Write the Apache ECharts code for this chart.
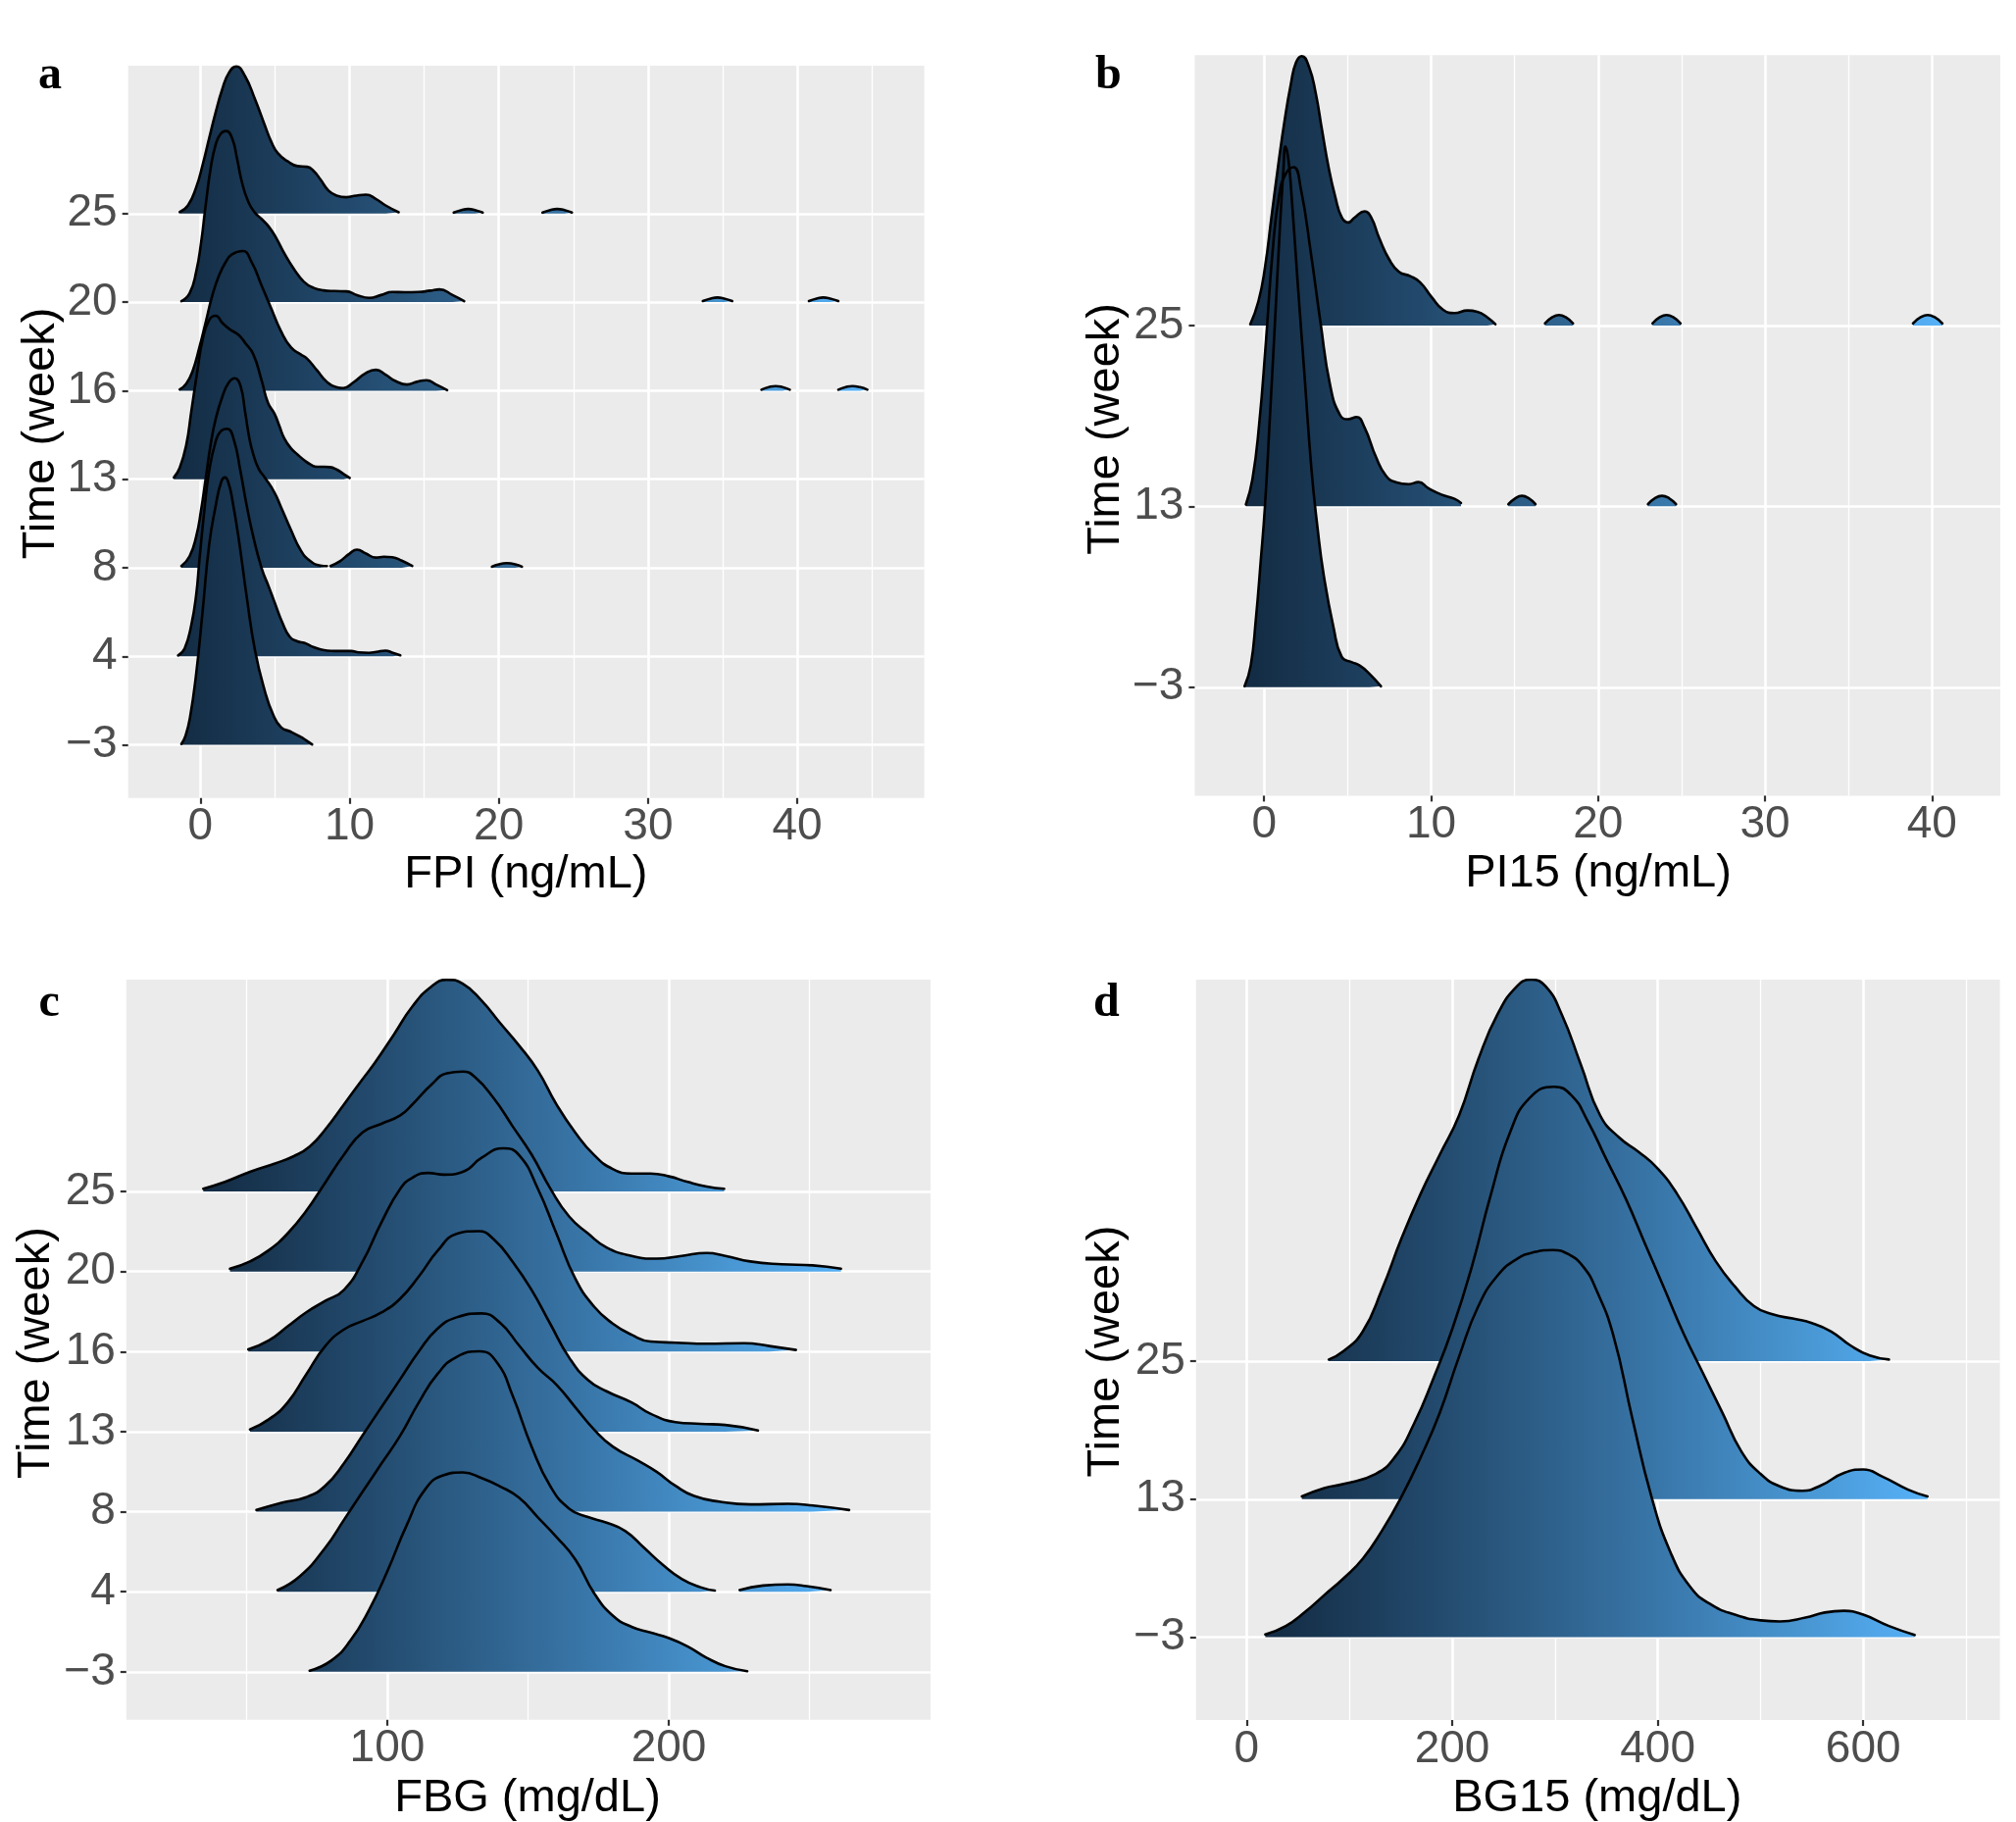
<!DOCTYPE html>
<html><head><meta charset="utf-8">
<script src="https://cdn.jsdelivr.net/npm/echarts@6.0.0/dist/echarts.min.js"></script>
<style>html,body{margin:0;padding:0;background:#fff}#c{width:2056px;height:1858px}</style>
</head><body><div id="c"></div>
<script>
// ---------------- DATA (x value, ridge height in units of row spacing) ----------------
// Panel a: FPI (ng/mL)
const weeksA = ['\u22123','4','8','13','16','20','25'];
const ticksA = [0,10,20,30,40];
const minorA = [5,15,25,35,45];
const fpi_wm3 = [[-1.27,0.01],[-1.0,0.1],[-0.7,0.3],[-0.28,0.8],[0.16,1.52],[0.59,2.26],[1.03,2.7],[1.4,2.97],[1.66,3.02],[1.9,2.95],[2.13,2.78],[2.57,2.33],[3.11,1.67],[3.66,1.07],[4.32,0.61],[4.86,0.35],[5.41,0.2],[6.07,0.148],[6.72,0.09],[7.1,0.05],[7.49,0.005]];
const fpi_w4 = [[-1.49,0.01],[-1.05,0.09],[-0.61,0.35],[-0.28,0.69],[-0.06,1.09],[0.27,1.65],[0.59,2.09],[1.03,2.43],[1.36,2.54],[1.8,2.57],[2.24,2.45],[2.68,2.1],[3.11,1.7],[3.55,1.35],[4.1,1.0],[4.6,0.78],[5.0,0.6],[5.5,0.38],[6.0,0.22],[6.5,0.17],[7.0,0.15],[7.5,0.11],[8.0,0.08],[8.5,0.065],[9.0,0.06],[9.6,0.06],[10.1,0.06],[10.6,0.045],[11.3,0.04],[11.8,0.05],[12.4,0.065],[12.9,0.04],[13.4,0.012]];
const fpi_w8 = [[-1.27,0.02],[-0.72,0.13],[-0.28,0.35],[0.05,0.65],[0.37,1.02],[0.70,1.4],[1.03,1.68],[1.47,1.93],[1.9,2.09],[2.31,2.14],[2.7,2.05],[3.0,1.76],[3.3,1.45],[3.55,1.28],[3.9,1.12],[4.32,1.02],[4.97,0.85],[5.41,0.685],[6.07,0.43],[6.72,0.2],[7.38,0.074],[8.04,0.026],[8.48,0.02],null,[8.72,0.02],[9.35,0.074],[10.0,0.16],[10.5,0.205],[11.1,0.16],[11.76,0.115],[12.3,0.125],[12.86,0.12],[13.5,0.08],[14.2,0.02],null,[19.54,0.012],[20.0,0.04],[20.55,0.052],[21.1,0.04],[21.55,0.012]];
const fpi_w13 = [[-1.77,0.02],[-1.38,0.13],[-0.94,0.39],[-0.61,0.76],[-0.2,1.22],[0.16,1.58],[0.6,1.8],[1.03,1.846],[1.5,1.76],[2.0,1.69],[2.56,1.63],[3.0,1.54],[3.55,1.41],[4.1,1.12],[4.54,0.86],[4.97,0.74],[5.3,0.6],[5.63,0.46],[6.07,0.35],[6.51,0.28],[7.0,0.21],[7.38,0.167],[7.82,0.14],[8.3,0.14],[8.69,0.137],[9.13,0.11],[9.6,0.06],[10.01,0.015]];
const fpi_w16 = [[-1.38,0.015],[-0.94,0.08],[-0.5,0.23],[-0.06,0.49],[0.37,0.78],[0.81,1.08],[1.25,1.3],[1.69,1.45],[2.12,1.54],[2.85,1.577],[3.44,1.45],[4.1,1.19],[4.75,0.93],[5.41,0.67],[6.07,0.49],[6.72,0.41],[7.16,0.36],[7.82,0.23],[8.48,0.1],[9.1,0.04],[9.58,0.03],[10.23,0.09],[11.1,0.2],[11.77,0.236],[12.42,0.18],[13.07,0.11],[13.84,0.07],[14.5,0.1],[15.16,0.118],[15.8,0.07],[16.54,0.007],null,[37.6,0.012],[38.1,0.04],[38.55,0.052],[39.0,0.04],[39.5,0.012],null,[42.75,0.012],[43.25,0.04],[43.7,0.052],[44.2,0.04],[44.7,0.012]];
const fpi_w20 = [[-1.27,0.011],[-0.72,0.1],[-0.28,0.34],[0.05,0.67],[0.37,1.11],[0.70,1.52],[1.03,1.78],[1.36,1.9],[1.73,1.932],[2.13,1.85],[2.45,1.63],[2.78,1.36],[3.22,1.13],[3.66,1.01],[4.1,0.94],[4.6,0.85],[5.1,0.72],[5.63,0.55],[6.29,0.37],[6.94,0.23],[7.6,0.16],[8.26,0.133],[9.0,0.125],[9.79,0.122],[10.5,0.08],[11.33,0.048],[12.1,0.08],[12.86,0.114],[13.7,0.112],[14.61,0.114],[15.4,0.13],[16.03,0.144],[16.9,0.08],[17.68,0.011],null,[33.67,0.012],[34.2,0.04],[34.65,0.052],[35.1,0.04],[35.64,0.012],null,[40.78,0.012],[41.3,0.04],[41.75,0.052],[42.2,0.04],[42.75,0.012]];
const fpi_w25 = [[-1.38,0.018],[-0.83,0.092],[-0.28,0.295],[0.16,0.554],[0.59,0.849],[1.03,1.145],[1.47,1.404],[1.91,1.588],[2.41,1.662],[3.0,1.551],[3.66,1.293],[4.32,0.997],[4.75,0.813],[5.19,0.683],[5.85,0.591],[6.51,0.536],[7.16,0.528],[7.6,0.48],[8.04,0.388],[8.59,0.259],[9.13,0.203],[9.79,0.185],[10.45,0.203],[11.1,0.214],[11.76,0.166],[12.42,0.092],[13.29,0.015],null,[16.98,0.012],[17.5,0.04],[17.95,0.052],[18.4,0.04],[18.92,0.012],null,[22.93,0.012],[23.45,0.04],[23.9,0.052],[24.4,0.04],[24.9,0.012]];

// Panel b: PI15 (ng/mL)
const weeksB = ['\u22123','13','25'];
const ticksB = [0,10,20,30,40];
const minorB = [5,15,25,35];
const pi_wm3 = [[-1.17,0.005],[-0.8,0.12],[-0.5,0.37],[-0.2,0.7],[0.05,1.0],[0.35,1.5],[0.64,2.0],[0.95,2.55],[1.15,2.85],[1.28,2.99],[1.45,2.92],[1.62,2.75],[2.0,2.25],[2.4,1.75],[2.84,1.2],[3.2,0.88],[3.57,0.62],[4.16,0.33],[4.65,0.167],[5.23,0.139],[5.72,0.12],[6.31,0.074],[7.0,0.005]];
const pi_w13 = [[-1.09,0.01],[-0.7,0.15],[-0.3,0.45],[0.1,0.9],[0.5,1.4],[0.9,1.72],[1.3,1.84],[1.77,1.876],[2.2,1.756],[2.79,1.408],[3.38,1.015],[3.96,0.667],[4.55,0.505],[5.04,0.482],[5.53,0.494],[6.02,0.435],[6.7,0.273],[7.29,0.17],[7.88,0.134],[8.66,0.123],[9.25,0.134],[9.84,0.1],[10.62,0.065],[11.4,0.042],[11.79,0.019],null,[14.63,0.012],[15.05,0.045],[15.44,0.058],[15.85,0.045],[16.25,0.012],null,[22.99,0.012],[23.4,0.045],[23.83,0.058],[24.25,0.045],[24.67,0.012]];
const pi_w25 = [[-0.83,0.007],[-0.34,0.134],[0.05,0.32],[0.44,0.6],[0.83,0.876],[1.22,1.13],[1.61,1.34],[1.91,1.455],[2.26,1.49],[2.69,1.43],[3.08,1.29],[3.47,1.08],[3.86,0.876],[4.26,0.713],[4.65,0.598],[5.04,0.57],[5.43,0.598],[6.02,0.632],[6.41,0.598],[6.9,0.482],[7.49,0.366],[8.08,0.297],[8.76,0.273],[9.34,0.239],[10.03,0.158],[10.71,0.088],[11.4,0.069],[12.18,0.083],[12.77,0.076],[13.36,0.046],[13.85,0.007],null,[16.82,0.012],[17.24,0.045],[17.66,0.058],[18.08,0.045],[18.5,0.012],null,[23.26,0.012],[23.68,0.045],[24.1,0.058],[24.52,0.045],[24.94,0.012],null,[38.86,0.012],[39.3,0.045],[39.74,0.058],[40.18,0.045],[40.62,0.012]];

// Panel c: FBG (mg/dL)
const weeksC = ['\u22123','4','8','13','16','20','25'];
const ticksC = [100,200];
const minorC = [50,150,250];
const fbg_wm3 = [[72.4,0.014],[80.1,0.14],[86.8,0.386],[93.5,0.772],[100.1,1.263],[106.8,1.825],[113.5,2.281],[120.1,2.456],[126.8,2.491],[133.5,2.421],[140.1,2.316],[146.8,2.175],[153.5,1.93],[160.1,1.684],[166.8,1.404],[173.5,0.982],[180.1,0.702],[186.8,0.561],[193.5,0.491],[200.1,0.421],[206.8,0.316],[213.5,0.175],[220.1,0.07],[227.9,0.007]];
const fbg_w4 = [[61.0,0.021],[69.0,0.196],[77.9,0.547],[84.6,0.898],[91.2,1.249],[97.9,1.6],[104.6,1.951],[111.3,2.372],[117.9,2.723],[124.6,2.933],[132.8,3.004],[139.0,2.863],[144.6,2.442],[151.3,1.81],[157.9,1.319],[164.6,1.039],[171.3,0.933],[177.9,0.863],[184.6,0.758],[191.3,0.547],[197.9,0.337],[204.6,0.161],[211.3,0.056],[216.4,0.014],null,[225.2,0.021],[233.5,0.077],[242.4,0.091],[249.0,0.07],[257.5,0.021]];
const fbg_w8 = [[53.5,0.021],[62.4,0.112],[71.2,0.182],[77.9,0.323],[84.6,0.604],[91.2,0.954],[97.9,1.305],[104.6,1.656],[111.3,2.007],[117.9,2.288],[124.6,2.428],[133.5,2.477],[140.1,2.358],[146.8,2.077],[153.5,1.796],[160.1,1.586],[166.8,1.305],[173.5,1.025],[180.1,0.814],[189.0,0.639],[195.7,0.498],[202.4,0.323],[209.0,0.196],[217.9,0.126],[229.0,0.091],[242.4,0.098],[251.2,0.077],[264.1,0.021]];
const fbg_w13 = [[51.2,0.028],[57.9,0.154],[64.6,0.365],[71.2,0.716],[77.9,1.067],[84.6,1.277],[91.2,1.382],[97.9,1.488],[104.6,1.663],[111.3,1.944],[117.9,2.26],[124.6,2.47],[132.4,2.505],[137.9,2.4],[144.6,2.119],[151.3,1.768],[157.9,1.347],[164.6,0.926],[171.3,0.646],[177.9,0.505],[186.8,0.365],[193.5,0.225],[202.4,0.119],[211.3,0.098],[220.1,0.084],[231.7,0.014]];
const fbg_w16 = [[50.6,0.028],[57.9,0.14],[64.6,0.316],[71.2,0.491],[77.9,0.632],[84.6,0.772],[91.2,1.123],[97.9,1.614],[104.6,2.035],[109.0,2.175],[114.6,2.232],[120.1,2.211],[126.8,2.246],[133.5,2.421],[141.2,2.54],[146.8,2.456],[153.5,2.035],[160.1,1.474],[166.8,0.912],[173.5,0.561],[180.1,0.351],[186.8,0.211],[193.5,0.126],[202.4,0.112],[213.5,0.098],[226.8,0.105],[235.7,0.07],[245.2,0.021]];
const fbg_w20 = [[44.1,0.035],[51.2,0.126],[57.9,0.267],[64.6,0.477],[71.2,0.758],[77.9,1.109],[84.6,1.46],[91.2,1.74],[97.9,1.846],[104.6,1.951],[109.0,2.091],[115.7,2.337],[121.2,2.477],[126.8,2.498],[131.2,2.428],[137.9,2.161],[144.6,1.811],[151.3,1.46],[157.9,1.039],[164.6,0.688],[171.3,0.477],[177.9,0.302],[186.8,0.196],[195.7,0.161],[204.6,0.196],[213.5,0.232],[220.1,0.196],[229.0,0.126],[240.1,0.091],[251.2,0.077],[261.2,0.035]];
const fbg_w25 = [[34.6,0.035],[42.3,0.12],[51.2,0.246],[60.1,0.351],[66.8,0.442],[72.4,0.561],[77.9,0.772],[84.6,1.088],[91.2,1.404],[95.7,1.614],[102.4,1.965],[109.0,2.316],[115.7,2.561],[121.2,2.646],[126.8,2.596],[133.5,2.386],[140.1,2.105],[146.8,1.825],[153.5,1.509],[160.1,1.088],[166.8,0.737],[173.5,0.456],[180.1,0.281],[186.8,0.225],[193.5,0.225],[200.1,0.189],[206.8,0.119],[213.5,0.063],[219.7,0.035]];

// Panel d: BG15 (mg/dL)
const weeksD = ['\u22123','13','25'];
const ticksD = [0,200,400,600];
const minorD = [100,300,500,700];
const bg_wm3 = [[18.1,0.02],[38.1,0.081],[56.8,0.183],[75.5,0.305],[94.3,0.427],[113.0,0.569],[131.7,0.772],[150.5,1.016],[169.2,1.301],[187.9,1.626],[206.7,2.033],[225.4,2.398],[244.1,2.62],[262.9,2.74],[280.0,2.79],[298.0,2.805],[313.0,2.775],[328.0,2.68],[340.0,2.52],[356.5,2.195],[375.3,1.585],[394.0,1.016],[412.7,0.61],[431.5,0.366],[450.2,0.244],[475.1,0.163],[500.1,0.122],[518.9,0.114],[543.8,0.142],[562.5,0.179],[581.3,0.191],[600.0,0.163],[625.0,0.081],[650.0,0.016]];
const bg_w13 = [[53.7,0.02],[75.5,0.081],[94.3,0.11],[125.5,0.183],[144.2,0.305],[163.0,0.549],[181.7,0.874],[200.4,1.24],[219.2,1.687],[237.9,2.215],[256.6,2.663],[275.4,2.907],[299.1,2.988],[315.9,2.927],[331.5,2.744],[350.2,2.459],[369.0,2.175],[387.7,1.85],[406.5,1.524],[425.2,1.199],[443.9,0.915],[462.7,0.63],[481.4,0.346],[500.1,0.183],[518.9,0.093],[540.7,0.061],[559.4,0.102],[581.3,0.191],[600.0,0.215],[618.8,0.163],[643.7,0.069],[662.5,0.02]];
const bg_w25 = [[79.9,0.012],[94.3,0.073],[113.0,0.215],[131.7,0.52],[150.5,0.886],[169.2,1.211],[187.9,1.496],[206.7,1.78],[225.4,2.187],[244.1,2.512],[262.9,2.715],[276.6,2.764],[291.0,2.715],[306.6,2.512],[325.3,2.146],[344.0,1.78],[362.8,1.618],[381.5,1.516],[400.2,1.394],[418.9,1.211],[437.7,0.967],[456.4,0.724],[475.1,0.541],[493.8,0.398],[512.6,0.337],[531.3,0.309],[550.1,0.276],[568.8,0.215],[587.5,0.114],[606.3,0.041],[625.0,0.012]];

// ---------------- LAYOUT / STYLE ----------------
const FONT = '"Liberation Sans", Arial, Helvetica, sans-serif';
const panels = [
  {tag:'a', title:'FPI (ng/mL)', weeks:weeksA, ticks:ticksA, minor:minorA,
   ridges:[fpi_wm3,fpi_w4,fpi_w8,fpi_w13,fpi_w16,fpi_w20,fpi_w25],
   grid:{left:130.7, top:67, width:811.9, height:746.8}, xr:[-4.836,48.51], yr:[0.4,8.67],
   tagPos:[39,78], xtPos:[536.4,892], ytPos:[42,441.9]},
  {tag:'b', title:'PI15 (ng/mL)', weeks:weeksB, ticks:ticksB, minor:minorB,
   ridges:[pi_wm3,pi_w13,pi_w25],
   grid:{left:1218.4, top:56.3, width:821.6, height:755.1}, xr:[-4.157,44.09], yr:[0.4,4.495],
   tagPos:[1117,78], xtPos:[1630,891], ytPos:[1128,437.4]},
  {tag:'c', title:'FBG (mg/dL)', weeks:weeksC, ticks:ticksC, minor:minorC,
   ridges:[fbg_wm3,fbg_w4,fbg_w8,fbg_w13,fbg_w16,fbg_w20,fbg_w25],
   grid:{left:128.8, top:999, width:820.2, height:754.8}, xr:[7.25,293.03], yr:[0.4,9.647],
   tagPos:[39.5,1024], xtPos:[538,1834], ytPos:[37,1379.6]},
  {tag:'d', title:'BG15 (mg/dL)', weeks:weeksD, ticks:ticksD, minor:minorD,
   ridges:[bg_wm3,bg_w13,bg_w25],
   grid:{left:1219.8, top:999, width:819.8, height:755}, xr:[-49.24,733.0], yr:[0.4,5.764],
   tagPos:[1115,1024], xtPos:[1628.8,1834], ytPos:[1128,1378]}
];

// ---- Lab colour interpolation (ggplot2 default continuous fill #132B43 -> #56B1F7) ----
function hex2rgb(h){return [1,3,5].map(i=>parseInt(h.substr(i,2),16)/255);}
function lin(c){return c<=0.04045?c/12.92:Math.pow((c+0.055)/1.055,2.4);}
function delin(c){return c<=0.0031308?12.92*c:1.055*Math.pow(c,1/2.4)-0.055;}
function rgb2lab(rgb){const [r,g,b]=rgb.map(lin);
  const X=(0.4124564*r+0.3575761*g+0.1804375*b)/0.95047, Y=(0.2126729*r+0.7151522*g+0.0721750*b), Z=(0.0193339*r+0.1191920*g+0.9503041*b)/1.08883;
  const f=t=>t>216/24389?Math.cbrt(t):(24389/27*t+16)/116;
  const fx=f(X),fy=f(Y),fz=f(Z); return [116*fy-16,500*(fx-fy),200*(fy-fz)];}
function lab2hex(lab){const [L,a,b]=lab;const fy=(L+16)/116,fx=fy+a/500,fz=fy-b/200;
  const finv=t=>t*t*t>216/24389?t*t*t:(116*t-16)/(24389/27);
  const X=finv(fx)*0.95047,Y=finv(fy),Z=finv(fz)*1.08883;
  const r=3.2404542*X-1.5371385*Y-0.4985314*Z, g=-0.9692660*X+1.8760108*Y+0.0415560*Z, bb=0.0556434*X-0.2040259*Y+1.0572252*Z;
  return '#'+[r,g,bb].map(c=>Math.round(Math.max(0,Math.min(1,delin(Math.max(0,c))))*255).toString(16).padStart(2,'0')).join('');}
const LOW=rgb2lab(hex2rgb('#132B43')), HIGH=rgb2lab(hex2rgb('#56B1F7'));
function gradStops(){const s=[];for(let i=0;i<=12;i++){const t=i/12;s.push({offset:t,color:lab2hex(LOW.map((v,k)=>v+(HIGH[k]-v)*t))});}return s;}

const grids=[], xAxes=[], yAxes=[], series=[], graphics=[];
panels.forEach((p,gi)=>{
  grids.push(Object.assign({show:true, backgroundColor:'#EBEBEB', borderWidth:0, containLabel:false, outerBoundsMode:'none'}, p.grid));
  xAxes.push({type:'value', gridIndex:gi, min:p.xr[0], max:p.xr[1],
    axisLine:{show:false,onZero:false},
    axisTick:{show:true, customValues:p.ticks, length:6, lineStyle:{color:'#333333', width:2.2}},
    axisLabel:{customValues:p.ticks, fontSize:46, color:'#4D4D4D', margin:7, fontFamily:FONT},
    splitLine:{show:true, lineStyle:{color:'#FFFFFF', width:2.6}}});
  xAxes.push({type:'value', gridIndex:gi, min:p.xr[0], max:p.xr[1], position:'top',
    axisLine:{show:false,onZero:false},
    axisTick:{show:false, customValues:p.minor},
    axisLabel:{show:false, customValues:p.minor},
    splitLine:{show:true, lineStyle:{color:'#FFFFFF', width:1.3}}});
  const pos = p.weeks.map((_,i)=>i+1);
  yAxes.push({type:'value', gridIndex:gi, min:p.yr[0], max:p.yr[1],
    axisLine:{show:false,onZero:false},
    axisTick:{show:true, customValues:pos, length:6, lineStyle:{color:'#333333', width:2.2}},
    axisLabel:{customValues:pos, formatter:v=>p.weeks[Math.round(v)-1], fontSize:46, color:'#4D4D4D', margin:11, fontFamily:FONT},
    splitLine:{show:true, lineStyle:{color:'#FFFFFF', width:2.6}}});
  // fill gradient mapped to x over the panel's data range
  let mn=Infinity,mx=-Infinity;
  p.ridges.forEach(r=>r.forEach(pt=>{if(pt){mn=Math.min(mn,pt[0]);mx=Math.max(mx,pt[0]);}}));
  const toPx=x=>p.grid.left+(x-p.xr[0])/(p.xr[1]-p.xr[0])*p.grid.width;
  const stops=gradStops();
  for(let k=p.ridges.length-1;k>=0;k--){
    const base=k+1;
    let prev=0;
    const data=p.ridges[k].map(pt=>{ if(!pt) return [prev,'-']; prev=pt[0]; return [pt[0], base+pt[1]]; });
    series.push({type:'line', name:p.tag+'-'+p.weeks[k], xAxisIndex:gi*2, yAxisIndex:gi, data,
      symbol:'none', smooth:0.5, connectNulls:false, silent:true, animation:false,
      lineStyle:{color:'#000000', width:2.6, join:'round', cap:'round'},
      areaStyle:{origin:base, opacity:1, color:new echarts.graphic.LinearGradient(toPx(mn),0,toPx(mx),0,stops,true)}});
  }
  graphics.push({type:'text', x:p.tagPos[0], y:p.tagPos[1], style:{text:p.tag, font:'bold 48px "Liberation Serif", "Times New Roman", serif', fill:'#000', align:'left', verticalAlign:'middle', textAlign:'left', textVerticalAlign:'middle'}});
  graphics.push({type:'text', x:p.xtPos[0], y:p.xtPos[1], style:{text:p.title, font:'47px '+FONT, fill:'#000', align:'center', verticalAlign:'middle', textAlign:'center', textVerticalAlign:'middle'}});
  graphics.push({type:'text', x:p.ytPos[0], y:p.ytPos[1], rotation:Math.PI/2, style:{text:'Time (week)', font:'47px '+FONT, fill:'#000', align:'center', verticalAlign:'middle', textAlign:'center', textVerticalAlign:'middle'}});
});

const chart = echarts.init(document.getElementById('c'), null, {renderer:'canvas', width:2056, height:1858});
chart.setOption({animation:false, backgroundColor:'#FFFFFF', grid:grids, xAxis:xAxes, yAxis:yAxes, series, graphic:{elements:graphics}});
</script></body></html>
